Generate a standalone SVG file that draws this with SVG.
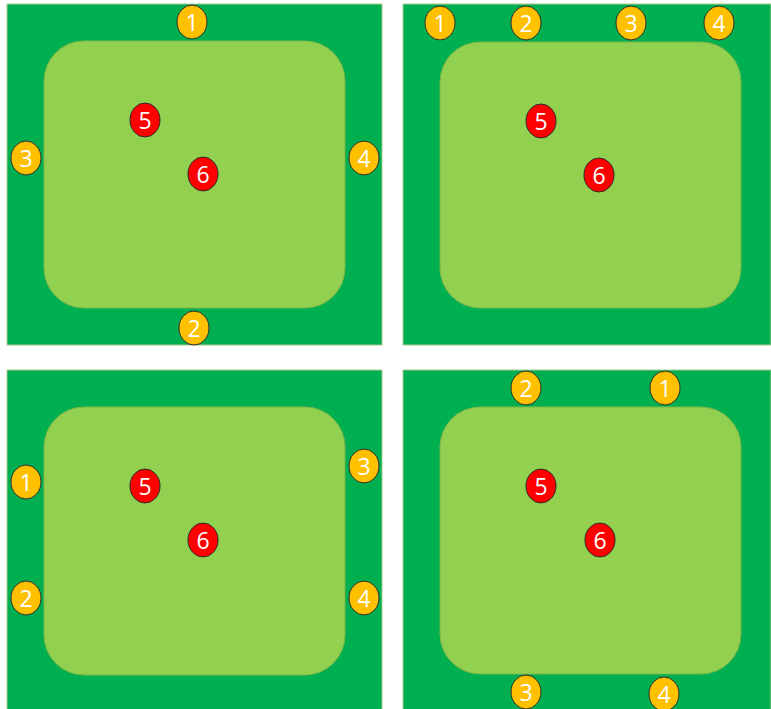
<svg xmlns="http://www.w3.org/2000/svg" width="771" height="709" viewBox="0 0 771 709">
<style>
.outer{fill:#00B050;stroke:#A9C98F;stroke-width:1}
.inner{fill:#92D050;stroke:#7DB547;stroke-width:1}
.y{fill:#FFC000;stroke:#2b2b2b;stroke-width:1}
.r{fill:#FF0000;stroke:#2b2b2b;stroke-width:1}
text{fill:#fff;font-family:"Open Sans","Liberation Sans",sans-serif;font-size:23px;text-anchor:middle;dominant-baseline:central}
</style>
<rect width="771" height="709" fill="#fff"/>
<g id="panel1">
<rect class="outer" x="7" y="4" width="375" height="341"/>
<rect class="inner" x="44" y="41" width="301" height="267" rx="40" ry="40"/>
<g id="p1n1"><ellipse class="y" cx="192" cy="22" rx="15" ry="17"/><text x="192" y="22">1</text></g>
<g id="p1n2"><ellipse class="y" cx="194" cy="328" rx="15" ry="17"/><text x="194" y="328">2</text></g>
<g id="p1n3"><ellipse class="y" cx="26" cy="158" rx="15" ry="17"/><text x="26" y="158">3</text></g>
<g id="p1n4"><ellipse class="y" cx="364" cy="158" rx="15" ry="17"/><text x="364" y="158">4</text></g>
<g id="p1n5"><ellipse class="r" cx="145" cy="120" rx="15" ry="17"/><text x="145" y="120">5</text></g>
<g id="p1n6"><ellipse class="r" cx="203" cy="174" rx="15" ry="17"/><text x="203" y="174">6</text></g>
</g>
<g id="panel2">
<rect class="outer" x="403" y="4" width="368" height="341"/>
<rect class="inner" x="440" y="42" width="301" height="266" rx="40" ry="40"/>
<g id="p2n1"><ellipse class="y" cx="440" cy="23" rx="15" ry="17"/><text x="440" y="23">1</text></g>
<g id="p2n2"><ellipse class="y" cx="526" cy="23" rx="15" ry="17"/><text x="526" y="23">2</text></g>
<g id="p2n3"><ellipse class="y" cx="631" cy="23" rx="15" ry="17"/><text x="631" y="23">3</text></g>
<g id="p2n4"><ellipse class="y" cx="719" cy="23" rx="15" ry="17"/><text x="719" y="23">4</text></g>
<g id="p2n5"><ellipse class="r" cx="541" cy="121" rx="15" ry="17"/><text x="541" y="121">5</text></g>
<g id="p2n6"><ellipse class="r" cx="599" cy="175" rx="15" ry="17"/><text x="599" y="175">6</text></g>
</g>
<g id="panel3">
<rect class="outer" x="7" y="370" width="375" height="345"/>
<rect class="inner" x="44" y="407" width="301" height="268" rx="40" ry="40"/>
<g id="p3n1"><ellipse class="y" cx="26" cy="482" rx="15" ry="17"/><text x="26" y="482">1</text></g>
<g id="p3n2"><ellipse class="y" cx="26" cy="598" rx="15" ry="17"/><text x="26" y="598">2</text></g>
<g id="p3n3"><ellipse class="y" cx="364" cy="466" rx="15" ry="17"/><text x="364" y="466">3</text></g>
<g id="p3n4"><ellipse class="y" cx="364" cy="598" rx="15" ry="17"/><text x="364" y="598">4</text></g>
<g id="p3n5"><ellipse class="r" cx="145" cy="486" rx="15" ry="17"/><text x="145" y="486">5</text></g>
<g id="p3n6"><ellipse class="r" cx="203" cy="540" rx="15" ry="17"/><text x="203" y="540">6</text></g>
</g>
<g id="panel4">
<rect class="outer" x="403" y="370" width="368" height="345"/>
<rect class="inner" x="440" y="407" width="301" height="267" rx="40" ry="40"/>
<g id="p4n2"><ellipse class="y" cx="526" cy="388" rx="15" ry="17"/><text x="526" y="388">2</text></g>
<g id="p4n1"><ellipse class="y" cx="665" cy="388" rx="15" ry="17"/><text x="665" y="388">1</text></g>
<g id="p4n3"><ellipse class="y" cx="526" cy="692" rx="15" ry="17"/><text x="526" y="692">3</text></g>
<g id="p4n4"><ellipse class="y" cx="664" cy="694" rx="15" ry="17"/><text x="664" y="694">4</text></g>
<g id="p4n5"><ellipse class="r" cx="541" cy="486" rx="15" ry="17"/><text x="541" y="486">5</text></g>
<g id="p4n6"><ellipse class="r" cx="600" cy="540" rx="15" ry="17"/><text x="600" y="540">6</text></g>
</g>
<g id="connectors"/>
</svg>
